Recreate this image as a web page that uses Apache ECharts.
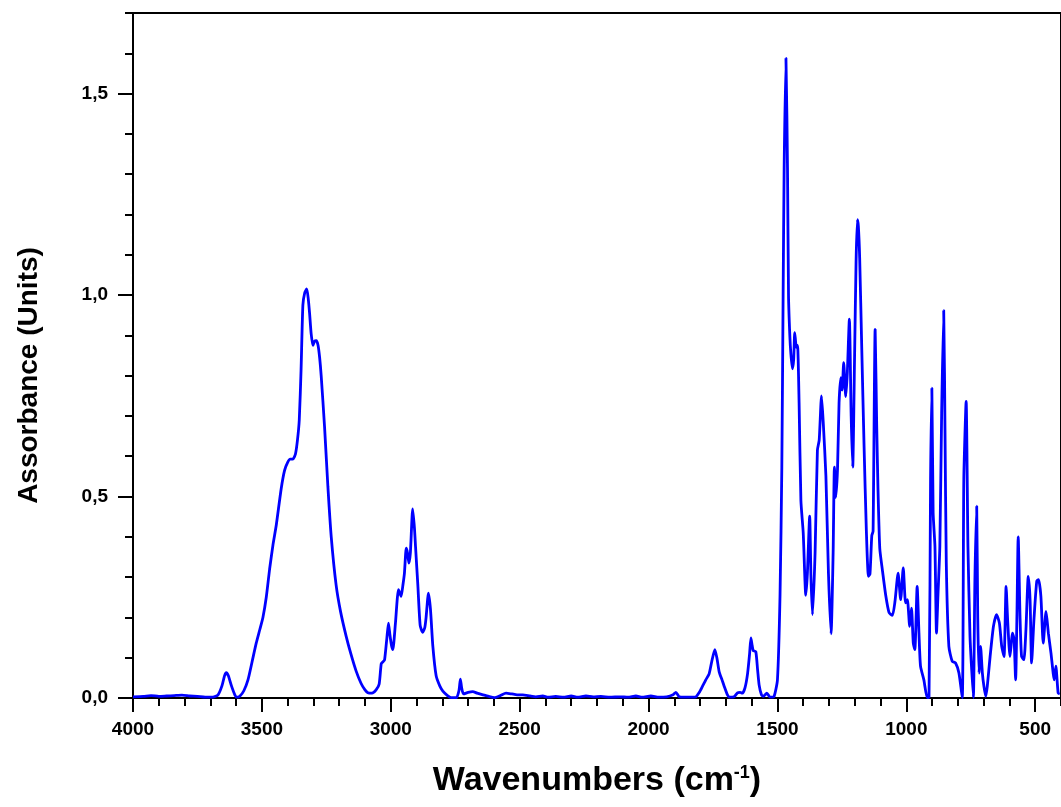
<!DOCTYPE html>
<html>
<head>
<meta charset="utf-8">
<script src="https://cdn.jsdelivr.net/npm/echarts@6/dist/echarts.min.js"></script>
<style>
html,body{margin:0;padding:0;background:#fff;}
#chart{width:1061px;height:807px;}
</style>
</head>
<body>
<div id="chart"></div>
<script>
const wavenumbers = [
4000,3960,3930,3900,3870,3840,3810,3780,3750,3720,3690,3670,3655,3645,3638,3630,3618,3605,3597,3585,
3570,3554,3538,3522,3508,3496,3483,3470,3457,3444,3425,3412,3400,3390,3380,3370,3362,3355,3348,3341,
3334,3326,3320,3315,3309,3302,3296,3289,3282,3276,3270,3257,3244,3231,3212,3195,3173,3155,3134,3115,
3100,3089,3073,3057,3045,3037,3030,3024,3015,3009,3003,2997,2992,2982,2970,2960,2953,2947,2940,2935,
2930,2924,2915,2908,2904,2895,2886,2876,2868,2863,2854,2846,2837,2824,2810,2798,2780,2766,2745,2735,
2730,2725,2718,2700,2682,2665,2643,2620,2598,2575,2553,2530,2510,2488,2460,2437,2410,2390,2360,2330,
2300,2275,2243,2215,2185,2150,2110,2080,2049,2025,1991,1960,1930,1905,1894,1881,1860,1830,1816,1803,
1790,1778,1765,1755,1743,1735,1726,1715,1707,1694,1685,1668,1655,1645,1636,1626,1616,1608,1603,1598,
1594,1584,1577,1571,1562,1555,1541,1532,1526,1513,1500,1490,1483,1478,1474,1467,1461,1457,1452,1448,
1442,1437,1433,1429,1426,1422,1416,1409,1400,1390,1384,1375,1370,1364,1354,1345,1338,1329,1322,1312,
1302,1292,1284,1279,1274,1267,1261,1254,1249,1243,1235,1229,1221,1214,1208,1201,1195,1190,1186,1181,
1173,1164,1155,1147,1141,1134,1129,1121,1115,1110,1103,1093,1080,1067,1054,1044,1032,1022,1012,1003,
996,987,980,973,967,958,951,945,932,919,912,906,901,896,889,883,877,870,863,855,
850,845,835,822,809,796,783,777,768,761,753,748,740,734,727,723,718,712,705,699,
692,686,675,662,650,639,630,621,613,607,598,588,582,576,571,566,559,553,544,536,
527,520,514,505,494,487,478,469,458,449,439,426,420,411,405
];
const absorbance = [
0.003,0.004,0.006,0.004,0.005,0.006,0.007,0.005,0.004,0.002,0.002,0.008,0.030,0.055,0.063,0.055,0.030,0.008,0.002,0.005,
0.018,0.045,0.090,0.136,0.170,0.200,0.250,0.320,0.380,0.430,0.520,0.565,0.585,0.593,0.593,0.605,0.640,0.690,0.815,0.975,
1.005,1.015,0.990,0.955,0.905,0.875,0.885,0.887,0.875,0.845,0.800,0.674,0.525,0.400,0.280,0.215,0.153,0.110,0.066,0.036,
0.020,0.013,0.012,0.020,0.035,0.085,0.090,0.095,0.150,0.186,0.155,0.130,0.120,0.185,0.269,0.252,0.280,0.310,0.372,0.360,
0.335,0.360,0.469,0.420,0.376,0.280,0.180,0.163,0.175,0.200,0.260,0.220,0.130,0.055,0.030,0.017,0.006,0.001,0.001,0.020,
0.047,0.025,0.010,0.014,0.016,0.012,0.008,0.004,0.001,0.006,0.012,0.010,0.008,0.008,0.005,0.003,0.005,0.002,0.004,0.002,
0.005,0.002,0.005,0.003,0.004,0.002,0.003,0.002,0.005,0.002,0.005,0.002,0.003,0.008,0.014,0.003,0.002,0.002,0.003,0.014,
0.030,0.045,0.060,0.090,0.120,0.100,0.065,0.045,0.030,0.008,0.002,0.003,0.013,0.014,0.012,0.025,0.060,0.110,0.149,0.130,
0.118,0.115,0.070,0.032,0.008,0.004,0.012,0.004,0.002,0.004,0.045,0.255,0.573,0.997,1.315,1.588,1.315,0.997,0.900,0.855,
0.817,0.840,0.907,0.880,0.870,0.875,0.732,0.490,0.410,0.255,0.307,0.451,0.300,0.207,0.360,0.615,0.640,0.750,0.680,0.551,
0.307,0.159,0.360,0.573,0.498,0.567,0.732,0.795,0.764,0.832,0.748,0.806,0.940,0.700,0.573,0.838,1.082,1.187,1.170,1.092,
0.870,0.626,0.414,0.302,0.308,0.403,0.414,0.915,0.679,0.520,0.371,0.318,0.255,0.212,0.205,0.240,0.310,0.244,0.323,0.236,
0.244,0.178,0.223,0.136,0.120,0.277,0.161,0.079,0.045,0.001,0.001,0.542,0.769,0.459,0.376,0.161,0.260,0.376,0.707,0.962,
0.666,0.335,0.128,0.091,0.087,0.062,0.001,0.542,0.736,0.376,0.153,0.087,0.001,0.294,0.476,0.200,0.062,0.128,0.062,0.029,
0.004,0.029,0.103,0.178,0.207,0.186,0.128,0.103,0.277,0.194,0.103,0.161,0.145,0.045,0.203,0.400,0.203,0.103,0.095,0.170,
0.302,0.244,0.087,0.194,0.290,0.294,0.252,0.136,0.215,0.161,0.112,0.045,0.079,0.012,0.010
];
const xMajorTicks = [4000,3500,3000,2500,2000,1500,1000,500];
const yMajorTicks = [0,0.5,1.0,1.5];

const FONT = "'Liberation Sans', Arial, sans-serif";
const seriesData = wavenumbers.map((w, i) => [w, absorbance[i]]);

const chart = echarts.init(document.getElementById('chart'), null, {renderer: 'canvas'});
const baseX = {
  type: 'value', gridIndex: 0, position: 'bottom', min: 400, max: 4000, inverse: true,
  splitLine: {show: false}
};
const baseY = {
  type: 'value', gridIndex: 0, position: 'left', min: 0, max: 1.7,
  splitLine: {show: false}
};
chart.setOption({
  animation: false,
  backgroundColor: '#ffffff',
  grid: {left: 133, top: 13, width: 929, height: 685, show: true, borderColor: '#000', borderWidth: 2, backgroundColor: 'transparent'},
  xAxis: [
    Object.assign({}, baseX, {
      interval: 100,
      axisLine: {show: true, lineStyle: {color: '#000', width: 2}},
      axisTick: {show: true, inside: false, length: 8, lineStyle: {color: '#000', width: 2}},
      axisLabel: {show: false}
    }),
    Object.assign({}, baseX, {
      axisLine: {show: false},
      axisTick: {show: true, inside: false, length: 14, customValues: xMajorTicks, lineStyle: {color: '#000', width: 2}},
      axisLabel: {
        show: true, customValues: xMajorTicks, margin: 22, color: '#000',
        fontFamily: FONT, fontWeight: 'bold', fontSize: 19,
        formatter: v => String(v)
      },
      name: '{a|Wavenumbers (cm}{s|-1}{a|)}',
      nameLocation: 'middle',
      nameGap: 66,
      nameTextStyle: {
        rich: {
          a: {fontFamily: FONT, fontWeight: 'bold', fontSize: 34, color: '#000'},
          s: {fontFamily: FONT, fontWeight: 'bold', fontSize: 18, color: '#000', verticalAlign: 'top', padding: [0, 0, 16, 0]}
        }
      }
    })
  ],
  yAxis: [
    Object.assign({}, baseY, {
      interval: 0.1,
      axisLine: {show: true, lineStyle: {color: '#000', width: 2}},
      axisTick: {show: true, inside: false, length: 8, lineStyle: {color: '#000', width: 2}},
      axisLabel: {show: false}
    }),
    Object.assign({}, baseY, {
      axisLine: {show: false},
      axisTick: {show: true, inside: false, length: 15, customValues: yMajorTicks, lineStyle: {color: '#000', width: 2}},
      axisLabel: {
        show: true, customValues: yMajorTicks, margin: 25, color: '#000',
        fontFamily: FONT, fontWeight: 'bold', fontSize: 19,
        formatter: v => v.toFixed(1).replace('.', ',')
      },
      name: 'Assorbance (Units)',
      nameLocation: 'middle',
      nameRotate: 90,
      nameGap: 90,
      nameTextStyle: {fontFamily: FONT, fontWeight: 'bold', fontSize: 28, color: '#000', padding: [0, 40, 0, 0]}
    })
  ],
  series: [{
    type: 'line',
    xAxisIndex: 0,
    yAxisIndex: 0,
    data: seriesData,
    showSymbol: false,
    smooth: 0.2,
    clip: true,
    lineStyle: {color: '#0000ff', width: 2.8}
  }]
});
</script>
</body>
</html>
